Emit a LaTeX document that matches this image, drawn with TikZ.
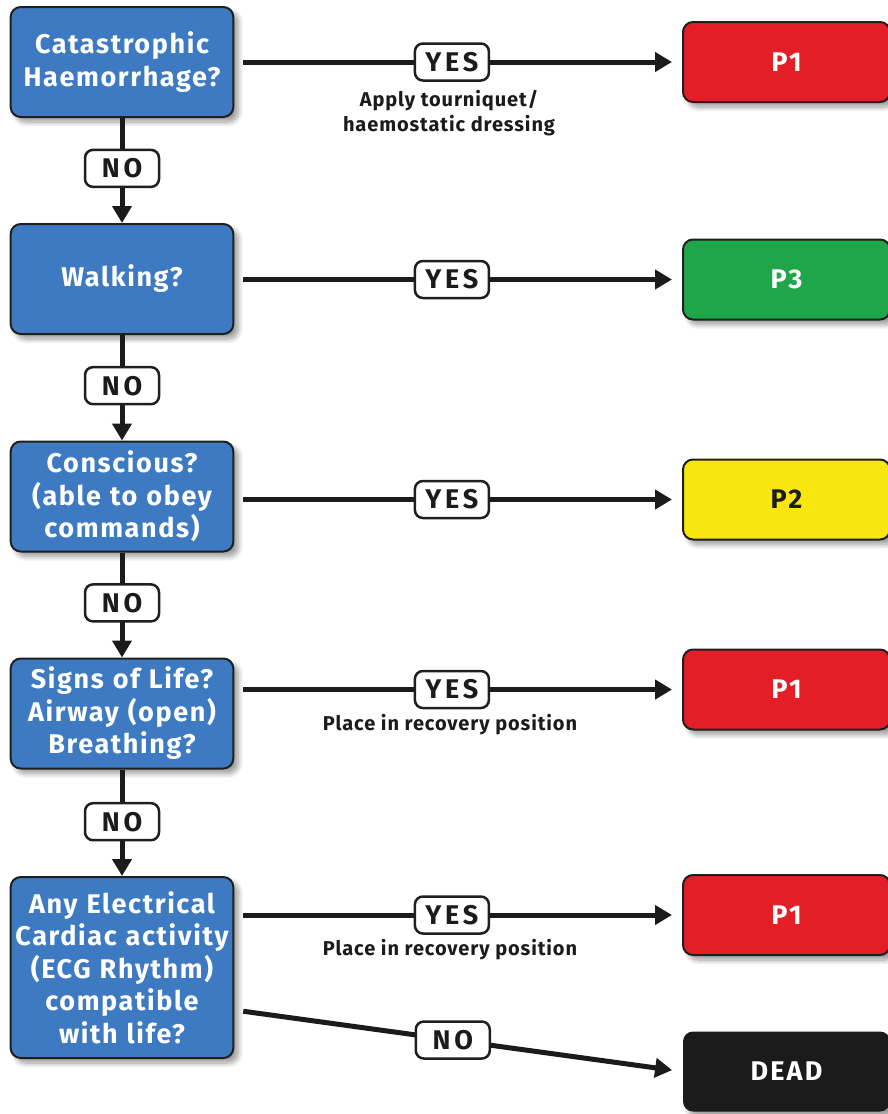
\documentclass[tikz,border=0pt]{standalone}
\usepackage{fontspec}
\setmainfont{Fira Sans}
\usetikzlibrary{arrows.meta,shadows.blur}

\definecolor{qblue}{HTML}{3D7AC1}
\definecolor{pred}{HTML}{E31E26}
\definecolor{pgreen}{HTML}{1FA64B}
\definecolor{pyellow}{HTML}{F7E70F}
\definecolor{pblack}{HTML}{1B1B1B}
\definecolor{edge}{HTML}{1F1F1F}

\tikzset{
  soft/.style={blur shadow={shadow xshift=5pt, shadow yshift=-5pt,
      shadow blur radius=5pt, shadow opacity=40, shadow blur steps=10}},
  question/.style={draw=edge, line width=2pt, fill=qblue, rounded corners=10pt,
      minimum width=220pt, minimum height=110pt, text width=216pt, align=center,
      text=white, soft,
      font=\bfseries\fontsize{27}{32.5}\selectfont\addfontfeatures{LetterSpace=6}},
  outcome/.style={draw=edge, line width=2pt, rounded corners=10pt,
      minimum width=207pt, minimum height=80pt, text=white, soft,
      font=\bfseries\fontsize{27}{30}\selectfont\addfontfeatures{LetterSpace=8}},
  tag/.style={draw=edge, line width=2.5pt, fill=white, rounded corners=8pt,
      minimum width=74pt, minimum height=37pt, inner sep=0pt, text=pblack,
      font=\bfseries\fontsize{27}{30}\selectfont\addfontfeatures{LetterSpace=14}},
  note/.style={align=center, text=pblack,
      font=\bfseries\fontsize{20}{25}\selectfont\addfontfeatures{LetterSpace=4.5}},
  flow/.style={draw=pblack, line width=5pt, -{Triangle[length=17pt,width=19pt]}},
  across/.style={flow, shorten <=9pt, shorten >=10pt},
}

\begin{document}
\begin{tikzpicture}[x=1pt, y=-1pt]
  \useasboundingbox (0,0) rectangle (888,1114);

  % question column
  \node[question] (b1) at (122,62)    {Catastrophic\\Haemorrhage?};
  \node[question] (b2) at (122,279)   {Walking?};
  \node[question] (b3) at (122,496.5) {Conscious?\\(able to obey\\commands)};
  \node[question] (b4) at (122,713.5) {Signs of Life?\\Airway (open)\\Breathing?};
  \node[question, minimum height=181pt] (b5) at (122,967.5)
      {Any Electrical\\Cardiac activity\\(ECG Rhythm)\\compatible\\with life?};

  % priority column
  \node[outcome, fill=pred]    (r1) at (786.5,62)    {P1};
  \node[outcome, fill=pgreen]  (r2) at (786.5,279.5) {P3};
  \node[outcome, fill=pyellow, text=pblack] (r3) at (786.5,499.5) {P2};
  \node[outcome, fill=pred]    (r4) at (786.5,689.5) {P1};
  \node[outcome, fill=pred]    (r5) at (786.5,915)   {P1};
  \node[outcome, fill=pblack, draw=none] (r6) at (786.5,1071.5) {DEAD};

  % NO branches down the column
  \draw[flow] (b1) -- node[tag, pos=0.48] (n1) {NO} (b2);
  \draw[flow] (b2) -- node[tag, pos=0.48] (n2) {NO} (b3);
  \draw[flow] (b3) -- node[tag, pos=0.48] (n3) {NO} (b4);
  \draw[flow] (b4) -- node[tag, pos=0.49] (n4) {NO} (b5);

  % YES branches to the priorities
  \draw[across] (b1.east) -- node[tag, pos=0.486] (y1) {YES} (r1.west);
  \draw[across] (b2.east |- r2.west) -- node[tag, pos=0.486] (y2) {YES} (r2.west);
  \draw[across] (b3.east |- r3.west) -- node[tag, pos=0.486] (y3) {YES} (r3.west);
  \draw[across] (b4.east |- r4.west) -- node[tag, pos=0.486] (y4) {YES} (r4.west);
  \draw[across] (b5.east |- r5.west) -- node[tag, pos=0.486] (y5) {YES} (r5.west);
  \draw[across] ([yshift=-42.5pt]b5.east) -- node[tag, pos=0.488] (n5) {NO} (r6.west);

  % instructions under the YES tags
  \node[note] (t1) at (449,113.5) {Apply tourniquet/\\haemostatic dressing};
  \node[note] (t4) at (450,725)   {Place in recovery position};
  \node[note] (t5) at (450,950)   {Place in recovery position};
\end{tikzpicture}
\end{document}
